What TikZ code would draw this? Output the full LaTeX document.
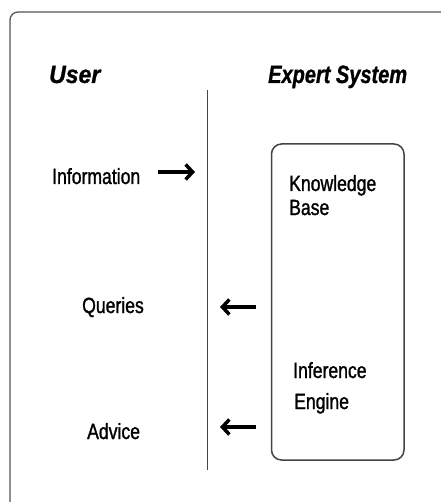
\documentclass[tikz,border=0pt]{standalone}
\usepackage{fontspec}
\setmainfont{Liberation Sans}
\newfontfamily\bodyfont[FakeStretch=0.8,FakeBold=1.2]{Liberation Sans}
\newfontfamily\headfont[FakeStretch=0.8,FakeBold=1,BoldFont={Liberation Sans Bold},BoldItalicFont={Liberation Sans Bold Italic}]{Liberation Sans}
\newfontfamily\userfont[FakeStretch=0.92,FakeBold=1,BoldFont={Liberation Sans Bold},BoldItalicFont={Liberation Sans Bold Italic}]{Liberation Sans}
\usetikzlibrary{arrows.meta}
\definecolor{framegray}{HTML}{555555}
\definecolor{boxgray}{HTML}{444444}
\tikzset{
  lbl/.style={anchor=base west, inner sep=0pt, font=\bodyfont\fontsize{22}{24}\selectfont},
  head/.style={anchor=base west, inner sep=0pt, font=\headfont\bfseries\itshape\fontsize{25}{28}\selectfont},
  userhead/.style={anchor=base west, inner sep=0pt, font=\userfont\bfseries\itshape\fontsize{25}{28}\selectfont},
  thickarrow/.style={line width=4pt, -{Straight Barb[length=7pt,width=15pt,line width=3.5pt]}},
  framestyle/.style={draw=framegray, line width=1.3pt, rounded corners=8pt},
  esbox/.style={draw=boxgray, line width=1.5pt, rounded corners=10pt},
}
\begin{document}
\begin{tikzpicture}[x=1pt,y=-1pt]
\useasboundingbox (0,0) rectangle (440,502);
% outer frame (cut off at right and bottom)
\draw[framestyle] (10,515) -- (10,12) -- (445,12);
% headers
\node[userhead] (user) at (49,83) {User};
\node[head] (es) at (268,83) {Expert System};
% divider
\draw[draw=boxgray, line width=1pt] (207.5,90) coordinate (dtop) -- (207.5,470) coordinate (dbot);
% expert system box
\draw[esbox] (271.5,144) rectangle (404,460);
\node[lbl] (kb1) at (289,191) {Knowledge};
\node[lbl] (kb2) at (289,215) {Base};
\node[lbl] (ie1) at (293,378) {Inference};
\node[lbl] (ie2) at (294,409) {Engine};
% user side labels
\node[lbl] (info) at (52,184) {Information};
\node[lbl] (qry) at (82,313) {Queries};
\node[lbl] (adv) at (87,439) {Advice};
% arrows
\coordinate (infoS) at (158,172);
\coordinate (infoE) at (195,172);
\coordinate (qS) at (256,307);
\coordinate (qE) at (220,307);
\coordinate (aS) at (256,427);
\coordinate (aE) at (220,427);
\draw[thickarrow] (infoS) -- (infoE);
\draw[thickarrow] (qS) -- (qE);
\draw[thickarrow] (aS) -- (aE);
\end{tikzpicture}
\end{document}
